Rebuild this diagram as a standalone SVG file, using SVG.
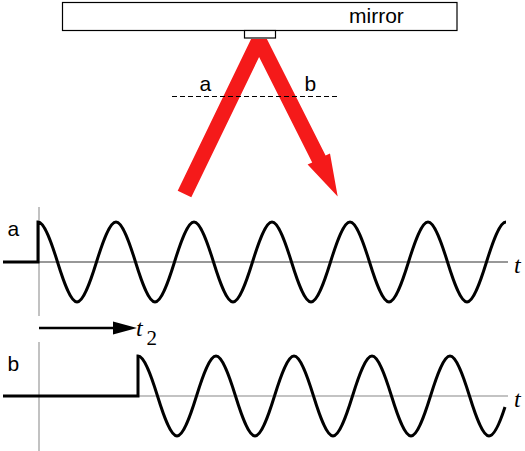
<svg xmlns="http://www.w3.org/2000/svg" width="525" height="451" viewBox="0 0 525 451">
<style>
.lbl{font-family:"Liberation Sans",Arial,sans-serif;font-size:21px;fill:#000}
.tt{font-family:"Liberation Serif","Times New Roman",serif;font-style:italic;font-size:24px;fill:#000}
.sub{font-family:"Liberation Serif","Times New Roman",serif;font-size:21px;fill:#000}
.wave{fill:none;stroke:#000;stroke-width:3;stroke-linejoin:miter}
.axis{fill:none;stroke-width:1.2}
.guide{fill:none;stroke:#999;stroke-width:1.2}
</style>
<rect width="525" height="451" fill="#fff"/>
<g id="beam">
<polygon fill="#f51a1a" points="177.7,190.7 251.1,39 266.9,39 325.6,155.6 330,153.4 337.7,196.5 307.6,164.6 312.2,162.4 259.1,57 191.3,197.3"/>
</g>
<g id="mirror">
<rect x="62.5" y="2.5" width="394.5" height="28" fill="#fff" stroke="#000" stroke-width="1.2"/>
<rect x="244.5" y="30.5" width="31" height="7.5" fill="#fff" stroke="#000" stroke-width="1.2"/>
<text class="lbl" x="349" y="22.5" font-size="22.5">mirror</text>
</g>
<g id="plane">
<line x1="172" y1="96.5" x2="340" y2="96.5" stroke="#000" stroke-width="1" stroke-dasharray="5,3"/>
<text class="lbl" x="199.5" y="91">a</text>
<text class="lbl" x="304.5" y="91">b</text>
</g>
<g id="guides">
<line class="guide" x1="39" y1="207" x2="39" y2="316"/>
<line class="guide" x1="39" y1="342" x2="39" y2="451"/>
</g>
<g id="signal-a">
<line class="axis" stroke="#333" x1="38" y1="262" x2="508" y2="262"/>
<path class="wave" d="M3 262H38V222c6.21 0 13.14 19.5 19.5 40s13.29 40 19.5 40
s13.14 -19.5 19.5 -40s13.29 -40 19.5 -40
s13.14 19.5 19.5 40s13.29 40 19.5 40
s13.14 -19.5 19.5 -40s13.29 -40 19.5 -40
s13.14 19.5 19.5 40s13.29 40 19.5 40
s13.14 -19.5 19.5 -40s13.29 -40 19.5 -40
s13.14 19.5 19.5 40s13.29 40 19.5 40
s13.14 -19.5 19.5 -40s13.29 -40 19.5 -40
s13.14 19.5 19.5 40s13.29 40 19.5 40
s13.14 -19.5 19.5 -40s13.29 -40 19.5 -40
s13.14 19.5 19.5 40s13.29 40 19.5 40
s13.14 -19.5 19.5 -40s13.29 -40 19.5 -40"/>
<text class="lbl" x="7.5" y="236" font-size="22">a</text>
<text class="tt" x="514" y="273">t</text>
</g>
<g id="delay">
<line x1="39" y1="328" x2="116" y2="328" stroke="#000" stroke-width="2.5"/>
<polygon points="113,321.5 137,328 113,334.5" fill="#000"/>
<text class="tt" x="136" y="336">t</text>
<text class="sub" x="146.5" y="345">2</text>
</g>
<g id="signal-b">
<line class="axis" stroke="#888" x1="138" y1="396" x2="508" y2="396"/>
<path class="wave" d="M3 396H138V356c6.21 0 13.14 19.5 19.5 40s13.29 40 19.5 40
s13.14 -19.5 19.5 -40s13.29 -40 19.5 -40
s13.14 19.5 19.5 40s13.29 40 19.5 40
s13.14 -19.5 19.5 -40s13.29 -40 19.5 -40
s13.14 19.5 19.5 40s13.29 40 19.5 40
s13.14 -19.5 19.5 -40s13.29 -40 19.5 -40
s13.14 19.5 19.5 40s13.29 40 19.5 40
s13.14 -19.5 19.5 -40s13.29 -40 19.5 -40
s13.14 19.5 19.5 40s13.29 40 19.5 40
c5.3 0 10.7 -12.6 16 -29"/>
<text class="lbl" x="7.5" y="371" font-size="22">b</text>
<text class="tt" x="514" y="407">t</text>
</g>
</svg>
